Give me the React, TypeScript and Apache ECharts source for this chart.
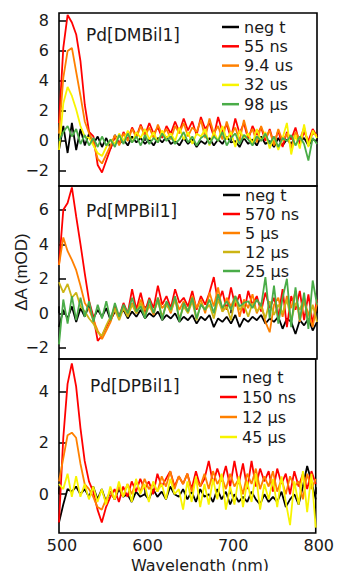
import React, { useEffect, useRef } from "react";
import * as echarts from "echarts";

// Wavelength grid (nm)
const wavelengths = [
  500, 505, 510, 515, 520, 525, 530, 535, 540, 545, 550, 555, 560, 565, 570, 575, 580, 585, 590, 595,
  600, 605, 610, 615, 620, 625, 630, 635, 640, 645, 650, 655, 660, 665, 670, 675, 680, 685, 690, 695,
  700, 705, 710, 715, 720, 725, 730, 735, 740, 745, 750, 755, 760, 765, 770, 775, 780, 785, 790, 795, 800,
];

// Panel 1: Pd[DMBil1]
const dmNeg = [
  -0.6, 1.0, -0.8, 1.2, -0.6, 0.8, -0.3, 0.5, -0.2, 0.3, -0.4, 0.2, -0.5, 0.4, -0.2, 0.1, -0.3, 0.3, -0.1, 0.2,
  -0.2, 0.1, -0.3, 0.2, -0.1, 0.3, -0.2, 0.0, -0.3, 0.2, -0.2, 0.1, -0.4, 0.0, -0.2, 0.2, -0.3, 0.1, -0.2, 0.3,
  -0.1, 0.0, -0.4, 0.2, -0.2, 0.1, -0.3, 0.3, -0.2, 0.0, -0.4, 0.2, -0.3, 0.1, -0.2, 0.3, -0.1, 0.2, -0.3, 0.1, 0.0,
];
const dm55ns = [
  1.2, 6.2, 8.4, 7.9, 7.1, 5.3, 2.4, 0.6, 0.3, -1.6, -2.1, -1.3, -0.5, 0.3, -0.2, 0.6, 0.1, 0.9, 0.3, 1.1,
  0.4, 1.2, 0.5, 0.9, 0.2, 1.0, 0.5, 1.3, 0.6, 1.5, 0.7, 1.3, 0.4, 1.6, 0.8, 1.2, 0.3, 1.6, 0.6, 1.1,
  0.2, 1.5, 0.5, 1.2, 0.1, 1.0, 0.4, 0.9, 0.0, 0.8, -0.2, 0.7, -0.4, 0.6, 0.1, 0.9, -0.2, 0.6, 0.0, 0.8, 0.3,
];
const dm9us = [
  0.5, 4.2, 6.0, 6.2, 4.6, 3.0, 1.3, 0.5, -0.1, -1.2, -1.5, -0.9, -0.3, 0.4, -0.3, 0.5, 0.0, 0.8, 0.2, 1.0,
  0.3, 0.9, 0.2, 1.1, 0.4, 0.8, 0.1, 1.0, 0.5, 1.2, 0.3, 0.9, 0.6, 1.4, 0.2, 1.5, 0.5, 1.0, 0.1, 1.3,
  0.4, 0.9, 0.0, 1.4, 0.3, 0.8, -0.1, 1.0, 0.2, 0.7, -0.3, 0.8, 0.0, 0.5, -0.5, 0.6, 0.1, 0.9, -0.2, 0.5, 0.4,
];
const dm32us = [
  -0.6, 2.5, 3.6, 3.0, 2.1, 1.0, 0.3, 0.2, -0.3, -0.8, -1.0, -0.4, 0.1, -0.2, 0.5, 0.0, 0.7, -0.1, 0.6, 0.2,
  0.8, 0.1, 0.6, -0.1, 0.7, 0.2, 0.5, 0.0, 0.9, 0.1, 0.6, -0.2, 0.5, 0.3, 0.8, -0.3, 0.6, 0.0, 1.0, 0.1,
  0.6, -0.4, 0.7, 0.2, 0.5, -0.2, 0.8, 0.0, 0.6, -0.5, 0.3, -0.6, 0.2, 1.2, -0.9, 0.4, -0.5, 1.1, -0.4, 0.7, 0.2,
];
const dm98us = [
  0.0, 0.6, 1.0, 0.3, 0.8, -0.2, 0.4, -0.3, 0.2, -0.4, 0.3, -0.3, 0.1, -0.4, 0.4, -0.2, 0.5, -0.1, 0.3, -0.3,
  0.4, -0.2, 0.2, -0.1, 0.5, 0.0, 0.3, -0.2, 0.1, 0.6, -0.1, 0.3, -0.3, 0.2, 0.4, -0.2, 0.3, 0.0, 0.6, -0.3,
  0.2, 0.5, -0.2, 0.4, 0.1, -0.3, 0.3, 0.0, 0.5, -0.2, 0.3, -0.4, 0.2, 0.0, 0.4, -0.3, 0.3, -0.2, -1.3, 0.2, -0.2,
];

// Panel 2: Pd[MPBil1]
const mpNeg = [
  -0.8, 0.2, -0.3, 0.4, -0.5, 0.3, -0.2, 0.5, -0.3, 0.2, -0.2, 0.3, -0.4, 0.1, -0.1, 0.2, -0.3, 0.1, -0.2, 0.2,
  -0.3, 0.0, -0.2, 0.1, -0.4, -0.1, -0.3, 0.0, -0.5, -0.2, -0.4, -0.1, -0.6, -0.2, -0.4, -0.1, -0.8, -0.3, -0.5, -0.2,
  -0.6, -0.1, -0.8, -0.3, -0.5, -0.2, -0.4, -0.1, -0.6, -0.3, -0.5, -0.2, -0.9, -0.3, -0.5, -1.2, -0.4, -0.7, -0.3, -1.0, -0.5,
];
const mp570ns = [
  2.8, 6.0, 6.4, 7.3, 5.6, 4.0, 2.3, 0.7, -0.2, -1.6, -1.3, -0.8, -0.3, 0.4, -0.2, 0.6, 0.0, 1.4, 0.2, 1.2,
  0.1, 0.9, 0.3, 1.6, 0.5, 1.0, 0.3, 1.4, 0.6, 0.9, 0.4, 1.3, 0.2, 1.0, 0.5, 1.2, 2.1, 0.6, 1.3, 0.2,
  1.5, 0.4, 1.1, 0.0, 1.3, 0.5, 1.0, 0.1, 1.2, 0.3, 0.9, -0.2, 1.4, -0.8, 1.0, 0.2, 1.3, -0.4, 1.1, -0.6, 0.8,
];
const mp5us = [
  2.8, 4.4, 3.6, 3.1, 2.5, 1.6, 0.6, 0.2, -0.4, -1.0, -1.5, -1.0, -0.5, 0.3, -0.3, 0.4, -0.1, 0.6, 0.0, 0.8,
  0.2, 0.5, -0.1, 0.9, 0.3, 0.6, 0.0, 0.9, 0.2, 0.7, 0.1, 1.0, 0.3, 0.8, 0.0, 1.2, 0.4, 1.5, 0.1, 0.9,
  0.4, 1.0, -0.2, 0.8, 0.3, 1.1, 0.0, 0.6, -0.5, -1.1, 0.5, 0.9, -0.2, 1.0, 0.3, 1.3, -0.5, 0.7, 0.0, -0.8, 0.6,
];
const mp12us = [
  1.8, 1.2, 1.7, 0.9, 1.2, 0.4, 0.1, -0.3, -0.6, -1.1, -1.3, -0.7, -0.2, 0.2, -0.4, 0.3, -0.2, 0.5, 0.0, 0.6,
  -0.1, 0.4, 0.1, 0.7, -0.2, 0.5, 0.1, 0.8, -0.3, 0.4, 0.0, 0.7, -0.4, 0.6, 0.2, 0.5, -0.3, 0.8, 0.1, 0.4,
  -0.4, 0.9, 0.2, 0.5, -0.2, 0.6, 0.1, 0.4, -0.3, 0.7, -0.1, 0.5, 0.0, 0.8, -0.4, 0.6, 0.2, 0.9, -0.6, 0.5, -0.5,
];
const mp25us = [
  -1.8, 0.8, -0.6, 1.0, -0.4, 0.9, -0.2, 0.7, -0.5, 0.5, -0.3, 0.7, -0.4, 0.6, -0.2, 0.5, 0.0, 0.9, 0.1, 0.4,
  -0.3, 0.8, 0.0, 0.9, -0.4, 0.7, 0.2, 1.0, -0.5, 0.6, 0.1, 0.9, -0.3, 0.5, 0.2, 0.8, 0.0, 1.1, 0.3, 0.7,
  0.2, 1.0, 0.4, 0.6, 0.7, 0.3, 0.8, 0.4, 2.1, -0.3, 1.6, -0.6, 0.9, 2.0, -0.8, 1.5, -0.4, 1.2, -0.9, 1.9, 0.5,
];

// Panel 3: Pd[DPBil1]
const dpNeg = [
  -1.1, -0.4, 0.2, 0.1, 0.3, 0.0, 0.2, -0.1, 0.3, -0.2, 0.2, -0.3, 0.1, -0.2, 0.2, -0.1, 0.0, -0.3, 0.1, -0.1,
  0.0, -0.2, 0.2, -0.1, 0.1, -0.2, 0.3, 0.0, -0.1, 0.2, -0.2, 0.1, -0.3, 0.2, -0.1, 0.0, -0.3, 0.2, -0.2, 0.1,
  -0.4, 0.0, -0.3, -0.1, -0.3, 0.1, -0.2, -0.4, 0.0, -0.3, -0.1, -0.3, 0.1, -0.5, -0.2, 0.0, -0.4, 0.3, 1.1, 0.5, -0.2,
];
const dp150ns = [
  -1.1, 2.2, 4.3, 5.1, 4.2, 2.6, 1.3, 0.5, 0.1, -0.6, -1.1, -0.5, -0.1, 0.2, -0.3, 0.3, -0.1, 0.5, 0.1, 0.6,
  0.2, 0.5, 0.0, 0.8, 0.3, 0.6, 0.9, 0.3, 0.7, 0.4, 0.8, 0.2, 0.9, 0.3, 0.6, 1.3, 0.4, 1.0, 0.5, 1.1,
  0.3, 1.3, 0.4, 1.2, 0.2, 1.3, 0.3, 1.0, 0.5, 0.9, 0.1, 1.0, 0.4, 0.8, 0.0, 0.9, 0.3, 0.8, 0.2, 0.9, 0.4,
];
const dp12us = [
  0.5, 1.4, 2.3, 2.4, 2.2, 1.2, 0.4, 0.2, -0.1, -0.5, -0.6, -0.2, 0.1, -0.2, 0.3, -0.1, 0.4, 0.0, 0.5, 0.1,
  0.6, 0.2, 0.4, 0.1, 0.7, 0.3, 0.9, 0.2, 0.7, 0.4, 0.8, 0.1, 0.6, 0.3, 0.8, 0.2, 0.9, 0.4, 0.7, 0.2,
  0.8, 0.3, 0.6, 0.0, 0.8, 0.4, 1.0, 0.2, 0.7, 0.3, 0.9, 0.1, 0.6, 0.0, 0.7, 0.3, 0.5, -0.2, 0.8, 0.2, 0.6,
];
const dp45us = [
  0.4, 0.2, 0.8, -0.1, 0.7, -0.1, 0.4, -0.2, 0.3, -0.3, 0.2, -0.4, 0.3, -0.2, 0.5, -0.1, 0.4, -0.3, 0.6, 0.0,
  0.4, -0.3, 0.5, 0.1, 0.4, -0.2, 0.6, 0.0, 0.2, -0.6, 0.5, -0.3, 0.7, -0.5, 0.4, -0.4, 0.6, -0.2, 0.8, -0.6,
  0.3, -0.4, 0.7, -0.5, 0.5, -0.3, 0.8, -0.6, 0.4, -0.2, 0.6, -0.5, 0.7, -0.3, -1.2, 0.5, -0.4, 0.9, -0.7, 0.8, -1.3,
];

// Tick labels of the x axis
const xTicks = [500, 600, 700, 800];

const BLACK = "#000000";
const RED = "#ff0000";
const ORANGE = "#ff8000";
const YELLOW = "#f8f400";
const OLIVE = "#ccb414";
const GREEN = "#4aac48";

const FONT = "DejaVu Sans";
const TEXT = "#1a1a1a";

type Panel = {
  title: string;
  titleLeft: number;
  titleTop: number;
  grid: { top: number; height: number };
  yMin: number;
  yMax: number;
  legendLeft: number;
  legendTop: number;
  legendGap: number;
  series: { name: string; values: number[]; color: string }[];
};

const panels: Panel[] = [
  {
    title: "Pd[DMBil1]",
    titleLeft: 86,
    titleTop: 26,
    grid: { top: 13, height: 173 },
    yMin: -3,
    yMax: 8.53,
    legendLeft: 222,
    legendTop: 19,
    legendGap: 3.3,
    series: [
      { name: "neg t", values: dmNeg, color: BLACK },
      { name: "55 ns", values: dm55ns, color: RED },
      { name: "9.4 us", values: dm9us, color: ORANGE },
      { name: "32 us", values: dm32us, color: YELLOW },
      { name: "98 µs", values: dm98us, color: GREEN },
    ],
  },
  {
    title: "Pd[MPBil1]",
    titleLeft: 86,
    titleTop: 202,
    grid: { top: 186, height: 173 },
    yMin: -2.65,
    yMax: 7.38,
    legendLeft: 223,
    legendTop: 187,
    legendGap: 3,
    series: [
      { name: "neg t", values: mpNeg, color: BLACK },
      { name: "570 ns", values: mp570ns, color: RED },
      { name: "5 µs", values: mp5us, color: ORANGE },
      { name: "12 µs", values: mp12us, color: OLIVE },
      { name: "25 µs", values: mp25us, color: GREEN },
    ],
  },
  {
    title: "Pd[DPBil1]",
    titleLeft: 90,
    titleTop: 377,
    grid: { top: 359, height: 174 },
    yMin: -1.51,
    yMax: 5.27,
    legendLeft: 220,
    legendTop: 369,
    legendGap: 4,
    series: [
      { name: "neg t", values: dpNeg, color: BLACK },
      { name: "150 ns", values: dp150ns, color: RED },
      { name: "12 µs", values: dp12us, color: ORANGE },
      { name: "45 µs", values: dp45us, color: YELLOW },
    ],
  },
];

const fmtY = (v: number) => {
  if (Math.abs(v % 2) > 1e-9) return "";
  if (v < 0) return "\u2212" + Math.abs(v);
  return String(v);
};

export default function App() {
  const ref = useRef<HTMLDivElement>(null);

  useEffect(() => {
    if (!ref.current) return;
    const chart = echarts.init(ref.current, undefined, { renderer: "svg" });

    const grids = panels.map((p) => ({
      left: 59,
      width: 258,
      top: p.grid.top,
      height: p.grid.height,
      show: true,
      borderColor: "#000",
      borderWidth: 1.6,
      backgroundColor: "transparent",
    }));

    const xAxes = panels.map((p, i) => ({
      type: "value",
      gridIndex: i,
      min: 500,
      max: 800,
      interval: 100,
      axisLine: { show: false },
      axisTick: { show: true, inside: true, length: 7, lineStyle: { color: "#000", width: 1.5 } },
      splitLine: { show: false },
      axisLabel: {
        show: i === 2,
        fontFamily: FONT,
        fontSize: 16,
        lineHeight: 12,
        color: TEXT,
        margin: 6,
        padding: [0, 0, 0, 6],
        formatter: (v: number) => (xTicks.includes(v) ? String(v) : ""),
      },
    }));

    const yAxes = panels.map((p, i) => ({
      type: "value",
      gridIndex: i,
      min: p.yMin,
      max: p.yMax,
      minInterval: 2,
      maxInterval: 2,
      splitNumber: 4,
      axisLine: { show: false },
      axisTick: { show: true, inside: true, length: 7, lineStyle: { color: "#000", width: 1.5 } },
      splitLine: { show: false },
      axisLabel: {
        fontFamily: FONT,
        fontSize: 16,
        color: TEXT,
        margin: 10,
        showMinLabel: false,
        showMaxLabel: false,
        formatter: fmtY,
      },
    }));

    const series: any[] = [];
    panels.forEach((p, i) => {
      p.series.forEach((s) => {
        series.push({
          type: "line",
          name: s.name,
          xAxisIndex: i,
          yAxisIndex: i,
          data: wavelengths.map((w, k) => [w, s.values[k]]),
          symbol: "none",
          showSymbol: false,
          clip: true,
          lineStyle: { color: s.color, width: 1.8 },
          itemStyle: { color: s.color },
          emphasis: { disabled: true },
        });
      });
    });

    const legends = panels.map((p) => ({
      orient: "vertical",
      left: p.legendLeft,
      top: p.legendTop,
      padding: 0,
      itemGap: p.legendGap,
      itemWidth: 17,
      itemHeight: 2.5,
      icon: "rect",
      selectedMode: false,
      textStyle: { fontFamily: FONT, fontSize: 16, color: TEXT, lineHeight: 16 },
      data: p.series.map((s) => ({ name: s.name, itemStyle: { color: s.color }, icon: "rect" })),
    }));

    const titles = panels.map((p) => ({
      text: p.title,
      left: p.titleLeft,
      top: p.titleTop,
      padding: 0,
      textStyle: { fontFamily: FONT, fontSize: 17, fontWeight: "normal", color: TEXT },
    }));

    chart.setOption({
      animation: false,
      backgroundColor: "#ffffff",
      title: titles,
      legend: legends,
      grid: grids,
      xAxis: xAxes,
      yAxis: yAxes,
      series,
      graphic: [
        {
          type: "text",
          x: 21,
          y: 272,
          rotation: Math.PI / 2,
          style: {
            text: "\u0394A (mOD)",
            fontFamily: "Liberation Sans",
            fontSize: 17,
            fill: TEXT,
            textAlign: "center",
            textVerticalAlign: "middle",
          },
        },
        {
          type: "text",
          x: 200,
          y: 565,
          style: {
            text: "Wavelength (nm)",
            fontFamily: FONT,
            fontSize: 16,
            lineHeight: 13,
            fill: TEXT,
            textAlign: "center",
            textVerticalAlign: "middle",
          },
        },
      ],
    });

    return () => chart.dispose();
  }, []);

  return (
    <div
      ref={ref}
      style={{ position: "absolute", left: 0, top: 0, width: 337, height: 571, background: "#fff" }}
    />
  );
}
